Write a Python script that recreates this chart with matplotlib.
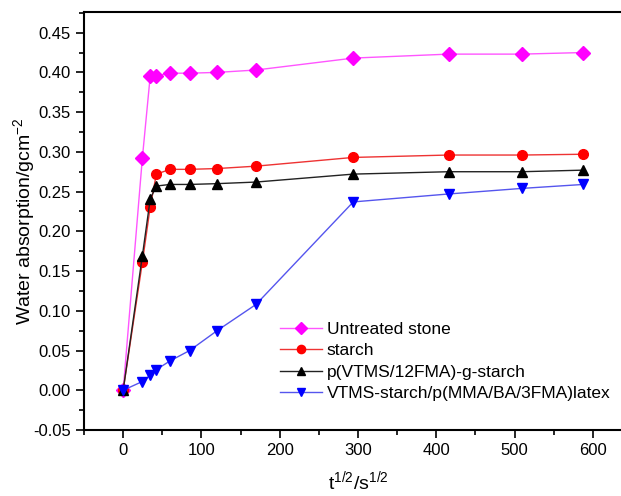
import matplotlib
matplotlib.use("Agg")
import matplotlib.pyplot as plt
from matplotlib.ticker import MultipleLocator

plt.rcParams["font.family"] = ["Liberation Sans", "DejaVu Sans"]
plt.rcParams["mathtext.fontset"] = "custom"
plt.rcParams["mathtext.rm"] = "Liberation Sans"
plt.rcParams["mathtext.it"] = "Liberation Sans"

# square root of time (s^1/2)
t_sqrt = [0, 24.5, 34.6, 42.4, 60, 84.9, 120, 169.7, 293.9, 415.7, 509.1, 587.9]

untreated = [0, 0.292, 0.396, 0.396, 0.399, 0.399, 0.400, 0.403, 0.418, 0.423, 0.423, 0.425]
starch = [0, 0.161, 0.231, 0.272, 0.278, 0.278, 0.279, 0.282, 0.293, 0.296, 0.296, 0.297]
grafted = [0, 0.169, 0.241, 0.257, 0.259, 0.259, 0.260, 0.262, 0.272, 0.275, 0.275, 0.277]
latex = [0, 0.011, 0.019, 0.026, 0.037, 0.050, 0.075, 0.108, 0.237, 0.247, 0.254, 0.259]

labels = [
    "Untreated stone",
    "starch",
    "p(VTMS/12FMA)-g-starch",
    "VTMS-starch/p(MMA/BA/3FMA)latex",
]

fig = plt.figure(figsize=(6.21, 4.96), dpi=100)
ax = fig.add_axes([0.1353, 0.1331, 0.8825, 0.8427])

ax.plot(t_sqrt, untreated, color="#ff55ff", marker="D", markersize=7,
        markerfacecolor="#ff00ff", markeredgecolor="#ff00ff", linewidth=1, label=labels[0])
ax.plot(t_sqrt, starch, color="#ee3333", marker="o", markersize=7,
        markerfacecolor="#ff0000", markeredgecolor="#ff0000", linewidth=1, label=labels[1])
ax.plot(t_sqrt, grafted, color="#222222", marker="^", markersize=7.5,
        markerfacecolor="black", markeredgecolor="black", linewidth=1, label=labels[2])
ax.plot(t_sqrt, latex, color="#5555ee", marker="v", markersize=7.5,
        markerfacecolor="#0000ff", markeredgecolor="#0000ff", linewidth=1, label=labels[3])

ax.set_xlim(-50, 650)
ax.set_ylim(-0.05, 0.476)
ax.xaxis.set_major_locator(MultipleLocator(100))
ax.xaxis.set_minor_locator(MultipleLocator(50))
ax.yaxis.set_major_locator(MultipleLocator(0.05))
ax.yaxis.set_minor_locator(MultipleLocator(0.025))
ax.set_yticks([0.45, 0.40, 0.35, 0.30, 0.25, 0.20, 0.15, 0.10, 0.05, 0.00, -0.05])
ax.set_yticklabels(["0.45", "0.40", "0.35", "0.30", "0.25", "0.20", "0.15",
                    "0.10", "0.05", "0.00", "-0.05"])
ax.set_xticks([0, 100, 200, 300, 400, 500, 600])
ax.tick_params(which="major", direction="out", length=6, width=1.2, labelsize=12)
ax.tick_params(which="minor", direction="out", length=3.5, width=1.2)
for side in ["left", "bottom", "top", "right"]:
    ax.spines[side].set_linewidth(1.5)

ax.set_xlabel("t$^{1/2}$/s$^{1/2}$", fontsize=14, labelpad=8)
ax.set_ylabel("Water absorption/gcm$^{-2}$", fontsize=14)
ax.yaxis.set_label_coords(-0.086, 0.5)

ax.legend(loc="upper left", bbox_to_anchor=(0.345, 0.275), frameon=False,
          fontsize=12.5, handlelength=2.4, handletextpad=0.3, labelspacing=0.35,
          markerscale=0.85, borderaxespad=0)

fig.savefig("out.png", dpi=100)
